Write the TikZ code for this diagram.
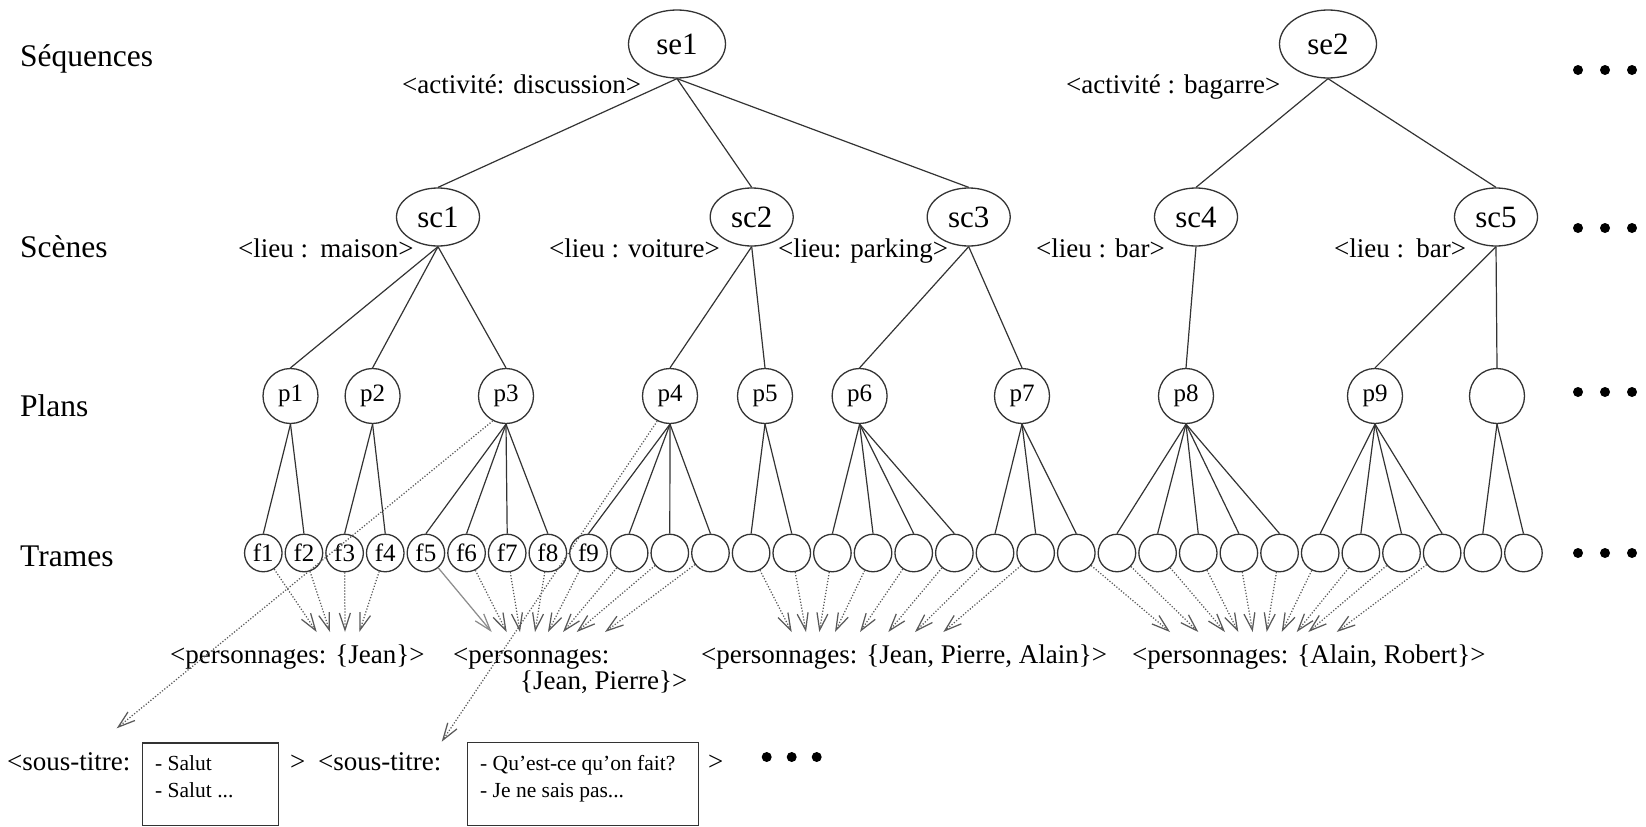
\documentclass[tikz,border=0pt]{standalone}
\usepackage{fontspec}
\setmainfont{Liberation Serif}
\usetikzlibrary{arrows.meta,shapes.geometric}
\begin{document}
\begin{tikzpicture}[x=1pt,y=-1pt,
  seq/.style={draw=black!80,line width=1.3pt,ellipse,minimum width=97pt,minimum height=68pt,inner sep=0pt,font=\fontsize{31}{36}\selectfont},
  scn/.style={seq,minimum width=83pt,minimum height=58pt},
  pln/.style={draw=black!80,line width=1.3pt,circle,minimum size=55pt,inner sep=0pt,font=\fontsize{25}{30}\selectfont},
  trm/.style={pln,minimum size=37.5pt},
  tie/.style={draw=black!80,line width=1.2pt},
  link/.style={draw=black!65,line width=1.25pt,dash pattern=on 1.2pt off 1.8pt,-{Straight Barb[length=17pt,width=11pt]}},
  attr/.style={anchor=base west,inner sep=0pt,font=\fontsize{27}{32}\selectfont},
  rowlab/.style={anchor=base west,inner sep=0pt,font=\fontsize{31.5}{36}\selectfont},
  boxtxt/.style={anchor=base west,inner sep=0pt,font=\fontsize{21.5}{26}\selectfont},
  subbox/.style={draw=black!80,line width=1.2pt,anchor=north west,inner sep=0pt},
  bullet/.style={fill=black,circle,inner sep=0pt,minimum size=10pt}
]
\useasboundingbox (0,0) rectangle (1646,827);

% level names
\node[rowlab] (lseq) at (20,66)  {Séquences};
\node[rowlab] (lscn) at (20,257) {Scènes};
\node[rowlab] (lpln) at (20,416) {Plans};
\node[rowlab] (ltrm) at (20,566) {Trames};

% sequences
\node[seq] (se1) at (677,44)  {se1};
\node[seq] (se2) at (1328,44) {se2};
\node[attr] (ase1) at (402,93)  {<activité: discussion>};
\node[attr] (ase2) at (1066,93) {<activité : bagarre>};

% scenes
\node[scn] (sc1) at (438,217)   {sc1};
\node[scn] (sc2) at (751.7,217) {sc2};
\node[scn] (sc3) at (968.7,217) {sc3};
\node[scn] (sc4) at (1196,217)  {sc4};
\node[scn] (sc5) at (1496,217)  {sc5};
\node[attr] (asc1) at (238,257)  {<lieu :\hspace{0.45em}maison>};
\node[attr] (asc2) at (549,257)  {<lieu : voiture>};
\node[attr] (asc3) at (778,257)  {<lieu: parking>};
\node[attr] (asc4) at (1036,257) {<lieu : bar>};
\node[attr] (asc5) at (1334,257) {<lieu :\hspace{0.45em}bar>};

% plans
\foreach \i/\x in {1/290.5,2/372.6,3/506,4/670,5/765,6/859.6,7/1022,8/1186,9/1375}
  \node[pln] (p\i) at (\x,396) {p\i};
\node[pln] (p10) at (1497,396) {};

% frames
\foreach \i in {1,...,32}{
  \pgfmathsetmacro\xx{263.3+(\i-1)*40.65}
  \node[trm] (f\i) at (\xx,553) {\ifnum\i<10 f\i\fi};
}

% continuation marks
\foreach \r/\y in {a/70,b/228,c/392,d/553}
  \foreach \k/\x in {1/1578,2/1605,3/1632}
    \node[bullet] (m\r\k) at (\x,\y) {};

% hierarchy
\foreach \a/\b in {se1/sc1,se1/sc2,se1/sc3,se2/sc4,se2/sc5,
                   sc1/p1,sc1/p2,sc1/p3,sc2/p4,sc2/p5,sc3/p6,sc3/p7,
                   sc4/p8,sc5/p9,sc5/p10}
  \draw[tie] (\a.south) -- (\b.north);
\foreach \a/\lo/\hi in {p1/1/2,p2/3/4,p3/5/8,p4/9/12,p5/13/14,p6/15/18,
                        p7/19/21,p8/22/26,p9/27/30,p10/31/32}
  \foreach \j in {\lo,...,\hi}
    \draw[tie] (\a.south) -- (f\j.north);

% character annotations
\node[attr] (pa) at (170,663)  {<personnages: \{Jean\}>};
\node[attr] (pb) at (453,663)  {<personnages:};
\node[attr] (pb2) at (520,689) {\{Jean, Pierre\}>};
\node[attr] (pc) at (701,663)  {<personnages: \{Jean, Pierre, Alain\}>};
\node[attr] (pd) at (1132,663) {<personnages: \{Alain, Robert\}>};

\foreach \j/\tx in {1/316.7,2/330,3/345,4/359.3,
                    5/491.7,6/506.7,7/520,8/535,9/548,10/563,11/576.7,12/605,
                    13/791.7,14/806,15/819.3,16/835,17/860,18/888.3,19/915,20/943.3,
                    21/1170,22/1198.3,23/1225,24/1238.3,25/1252.7,26/1266.7,
                    27/1281.7,28/1296.7,29/1308.3,30/1336.7}
  \coordinate (t\j) at (\tx,632);
\foreach \j in {1,2,3,4,6,7,8,9,10,11,12,13,14,15,16,17,18,19,20,
                21,22,23,24,25,26,27,28,29,30}
  \draw[link] (f\j) -- (t\j);
\draw[link,solid,draw=black!45] (f5) -- (t5);

% subtitles
\node[attr] (s1) at (7,770) {<sous-titre:};
\node[subbox,minimum width=136pt,minimum height=82.7pt] (b1) at (141.7,742.3) {};
\node[boxtxt] (b1a) at (155,770) {- Salut};
\node[boxtxt] (b1b) at (155,797) {- Salut ...};
\node[attr] (g1) at (290,770) {>};
\node[attr] (s2) at (318,770) {<sous-titre:};
\node[subbox,minimum width=231pt,minimum height=83.3pt] (b2) at (466.7,741.7) {};
\node[boxtxt] (b2a) at (480,770) {- Qu’est-ce qu’on fait?};
\node[boxtxt] (b2b) at (480,797) {- Je ne sais pas...};
\node[attr] (g2) at (708,770) {>};
\foreach \k/\x in {1/766.7,2/791.7,3/816.7}
  \node[bullet] (me\k) at (\x,757) {};

\coordinate (st1) at (116.7,728.3);
\coordinate (st2) at (441.7,741.7);
\draw[link] (p3.242) -- (st1);
\draw[link] (p4.243) -- (st2);
\end{tikzpicture}
\end{document}
